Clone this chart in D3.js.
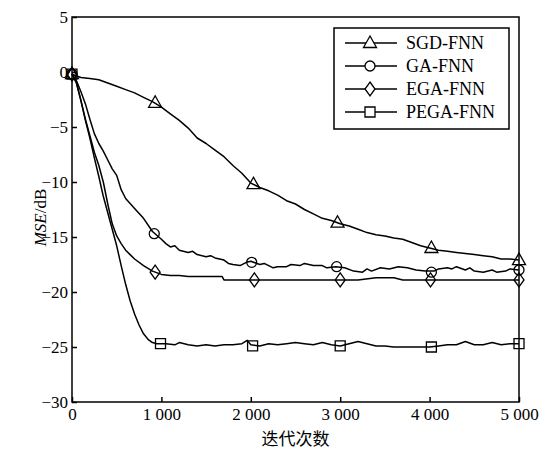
<!DOCTYPE html>
<html>
<head>
<meta charset="utf-8">
<script src="https://cdn.jsdelivr.net/npm/d3@7"></script>
<style>
  html, body { margin: 0; padding: 0; background: #fff; }
  svg { display: block; }
</style>
</head>
<body>
<div id="chart"></div>
<script>
/* MSE convergence curves */
var xTicks = [0, 1000, 2000, 3000, 4000, 5000];
var yTicks = [5, 0, -5, -10, -15, -20, -25, -30];
var seriesNames = ['SGD-FNN', 'GA-FNN', 'EGA-FNN', 'PEGA-FNN'];
var markerTypes = ['triangle', 'circle', 'diamond', 'square'];

var sgd = [[0,-0.2],[100,-0.5],[200,-0.6],[300,-0.7],[400,-1.0],[500,-1.3],[600,-1.6],[700,-1.9],
  [800,-2.3],[900,-2.7],[1000,-3.2],[1100,-3.8],[1200,-4.4],[1300,-5.1],[1400,-6.0],[1500,-6.5],
  [1600,-7.1],[1700,-7.7],[1800,-8.5],[1900,-9.2],[2000,-10.1],[2100,-10.5],[2200,-10.8],[2300,-11.2],
  [2400,-11.7],[2500,-12.0],[2600,-12.5],[2700,-12.9],[2800,-13.3],[2900,-13.5],[3000,-13.8],[3100,-14.0],
  [3200,-14.3],[3300,-14.6],[3400,-14.8],[3500,-14.9],[3600,-15.1],[3700,-15.2],[3800,-15.5],[3900,-15.8],
  [4000,-16.0],[4100,-16.2],[4200,-16.3],[4300,-16.4],[4400,-16.5],[4500,-16.6],[4600,-16.7],[4700,-16.8],
  [4800,-17.0],[4900,-17.0],[5000,-17.1]];

var ga = [[0,-0.2],[50,-0.8],[100,-1.8],[150,-2.9],[200,-4.3],[250,-5.6],[300,-6.5],[350,-7.2],
  [400,-8.0],[450,-8.8],[500,-9.4],[550,-10.7],[600,-11.5],[700,-12.4],[800,-13.3],[900,-14.5],
  [1000,-15.2],[1050,-15.6],[1100,-15.9],[1150,-15.8],[1200,-16.2],[1300,-16.4],[1350,-16.3],[1400,-16.6],
  [1500,-16.8],[1550,-16.7],[1600,-16.9],[1700,-17.1],[1750,-17.4],[1800,-17.5],[1880,-17.6],[1950,-17.3],
  [2000,-17.2],[2100,-17.5],[2150,-17.4],[2250,-17.8],[2300,-17.7],[2400,-17.7],[2450,-17.5],[2550,-17.6],
  [2600,-17.4],[2700,-17.6],[2800,-17.6],[2850,-17.8],[2950,-17.7],[3050,-17.8],[3150,-18.1],[3250,-18.2],
  [3300,-17.9],[3350,-18.1],[3450,-17.8],[3550,-17.9],[3650,-17.7],[3750,-17.8],[3850,-18.0],[3950,-18.1],
  [4050,-18.1],[4100,-17.9],[4200,-17.8],[4250,-17.9],[4300,-17.7],[4400,-18.0],[4450,-17.8],[4500,-18.1],
  [4600,-18.2],[4700,-18.0],[4750,-18.2],[4850,-18.1],[4900,-17.9],[5000,-18.0]];

var ega = [[0,-0.2],[50,-1.0],[100,-2.6],[150,-4.3],[200,-5.8],[250,-7.3],[300,-8.5],[350,-10.0],
  [400,-12.0],[450,-13.8],[500,-14.9],[550,-15.6],[600,-16.2],[650,-16.6],[700,-17.0],[800,-17.6],
  [900,-18.1],[1000,-18.4],[1100,-18.5],[1200,-18.5],[1300,-18.6],[1400,-18.6],[1600,-18.6],[1680,-18.6],
  [1700,-18.9],[2500,-18.9],[3200,-18.9],[3400,-18.7],[3600,-18.7],[3700,-18.9],[5000,-18.9]];

var pega = [[0,-0.2],[50,-1.0],[100,-2.6],[150,-4.4],[200,-6.0],[250,-7.8],[300,-9.5],[350,-11.3],
  [400,-12.8],[450,-14.3],[500,-15.8],[550,-17.6],[600,-19.3],[650,-20.8],[700,-22.0],[750,-23.0],
  [800,-23.8],[850,-24.3],[900,-24.6],[950,-24.7],[1050,-24.7],[1150,-24.8],[1200,-24.6],[1300,-24.8],
  [1400,-24.9],[1500,-24.8],[1600,-24.9],[1700,-24.8],[1800,-24.8],[1900,-24.7],[1960,-24.4],[2000,-24.8],
  [2100,-24.9],[2200,-24.7],[2300,-24.8],[2400,-24.7],[2500,-24.6],[2600,-24.7],[2700,-24.8],[2800,-24.6],
  [2900,-24.8],[3000,-24.9],[3100,-24.7],[3200,-24.5],[3300,-24.7],[3400,-24.9],[3500,-24.9],[3600,-25.0],
  [3800,-25.0],[4000,-25.0],[4100,-24.9],[4200,-24.8],[4300,-24.8],[4400,-24.5],[4500,-24.8],[4600,-24.8],
  [4700,-24.6],[4800,-24.8],[4900,-24.7],[5000,-24.7]];

/* marker positions (iteration, MSE) */
var sgdMarks = [[0,-0.2],[930,-2.8],[2030,-10.2],[2970,-13.7],[4020,-16.0],[5000,-17.1]];
var gaMarks = [[0,-0.2],[920,-14.7],[2010,-17.3],[2960,-17.7],[4020,-18.2],[5000,-18.0]];
var egaMarks = [[0,-0.2],[930,-18.2],[2040,-18.9],[3000,-18.9],[4010,-18.9],[5000,-18.9]];
var pegaMarks = [[0,-0.2],[990,-24.7],[2020,-24.9],[3000,-24.9],[4020,-25.0],[5000,-24.7]];

var seriesData = [sgd, ga, ega, pega];
var seriesMarks = [sgdMarks, gaMarks, egaMarks, pegaMarks];

var W = 546, H = 450;
var m = { top: 17, right: 27, bottom: 48, left: 72 };
var innerW = W - m.left - m.right;
var innerH = H - m.top - m.bottom;

var x = d3.scaleLinear().domain([0, 5000]).range([0, innerW]);
var y = d3.scaleLinear().domain([-30, 5]).range([innerH, 0]);

var svg = d3.select('#chart').append('svg')
  .attr('width', W).attr('height', H);

var g = svg.append('g').attr('transform', 'translate(' + m.left + ',' + m.top + ')');

var SERIF = '"Liberation Serif", "Times New Roman", serif';

function fmtX(d) {
  if (d === 0) return '0';
  return (d / 1000) + ' 000';
}
function fmtY(d) {
  return d < 0 ? '\u2212' + Math.abs(d) : String(d);
}

/* Frame */
g.append('rect')
  .attr('x', 0).attr('y', 0)
  .attr('width', innerW).attr('height', innerH)
  .attr('fill', 'none').attr('stroke', '#000').attr('stroke-width', 1.5);

/* Axes with inward ticks */
var xAxis = g.append('g')
  .attr('transform', 'translate(0,' + innerH + ')')
  .call(d3.axisBottom(x).tickValues(xTicks).tickSizeInner(-5).tickSizeOuter(0).tickFormat(fmtX));
var yAxis = g.append('g')
  .call(d3.axisLeft(y).tickValues(yTicks).tickSizeInner(-5).tickSizeOuter(0).tickFormat(fmtY));

[xAxis, yAxis].forEach(function (a) {
  a.select('.domain').remove();
  a.selectAll('.tick line').attr('stroke', '#000').attr('stroke-width', 1.5);
  a.selectAll('text')
    .attr('fill', '#000')
    .style('font-family', SERIF)
    .style('font-size', '17px');
});
xAxis.selectAll('text').attr('y', 6).attr('dy', '0.71em');
yAxis.selectAll('text').attr('x', -4);

/* Lines */
var line = d3.line()
  .x(function (d) { return x(d[0]); })
  .y(function (d) { return y(d[1]); });

seriesData.forEach(function (data) {
  g.append('path')
    .datum(data)
    .attr('d', line)
    .attr('fill', 'none')
    .attr('stroke', '#000')
    .attr('stroke-width', 1.5)
    .attr('stroke-linejoin', 'round');
});

/* Markers */
function markerPath(type) {
  if (type === 'triangle') return 'M0,-7L6.5,4.5L-6.5,4.5Z';
  if (type === 'diamond') return 'M0,-7L5,0L0,7L-5,0Z';
  if (type === 'square') return 'M-5,-5L5,-5L5,5L-5,5Z';
  return d3.symbol().type(d3.symbolCircle).size(Math.PI * 25)();
}

seriesMarks.forEach(function (marks, i) {
  g.selectAll('.mk' + i)
    .data(marks)
    .join('path')
    .attr('class', 'mk' + i)
    .attr('transform', function (d) { return 'translate(' + x(d[0]) + ',' + y(d[1]) + ')'; })
    .attr('d', markerPath(markerTypes[i]))
    .attr('fill', 'none')
    .attr('stroke', '#000')
    .attr('stroke-width', 1.3);
});

/* Legend */
var lg = svg.append('g').attr('transform', 'translate(334,28)');
lg.append('rect')
  .attr('width', 175).attr('height', 101)
  .attr('fill', '#fff').attr('stroke', '#000').attr('stroke-width', 1.5);

seriesNames.forEach(function (name, i) {
  var row = lg.append('g').attr('transform', 'translate(0,' + (15 + i * 23) + ')');
  row.append('line')
    .attr('x1', 11).attr('x2', 63).attr('y1', 0).attr('y2', 0)
    .attr('stroke', '#000').attr('stroke-width', 1.5);
  row.append('path')
    .attr('transform', 'translate(36,0)')
    .attr('d', markerPath(markerTypes[i]))
    .attr('fill', '#fff')
    .attr('stroke', '#000')
    .attr('stroke-width', 1.3);
  row.append('text')
    .attr('x', 72).attr('y', 0).attr('dy', '0.35em')
    .style('font-family', SERIF)
    .style('font-size', '18px')
    .text(name);
});

/* Axis titles */
svg.append('text')
  .attr('x', m.left + innerW / 2).attr('y', 445)
  .attr('text-anchor', 'middle')
  .style('font-family', '"Noto Sans CJK SC", sans-serif')
  .style('font-size', '17px')
  .text('迭代次数');

var yl = svg.append('text')
  .attr('transform', 'translate(46,' + (m.top + innerH / 2 + 8) + ') rotate(-90)')
  .attr('text-anchor', 'middle')
  .style('font-family', SERIF)
  .style('font-size', '17px');
yl.append('tspan').style('font-style', 'italic').text('MSE');
yl.append('tspan').text('/dB');
</script>
</body>
</html>
